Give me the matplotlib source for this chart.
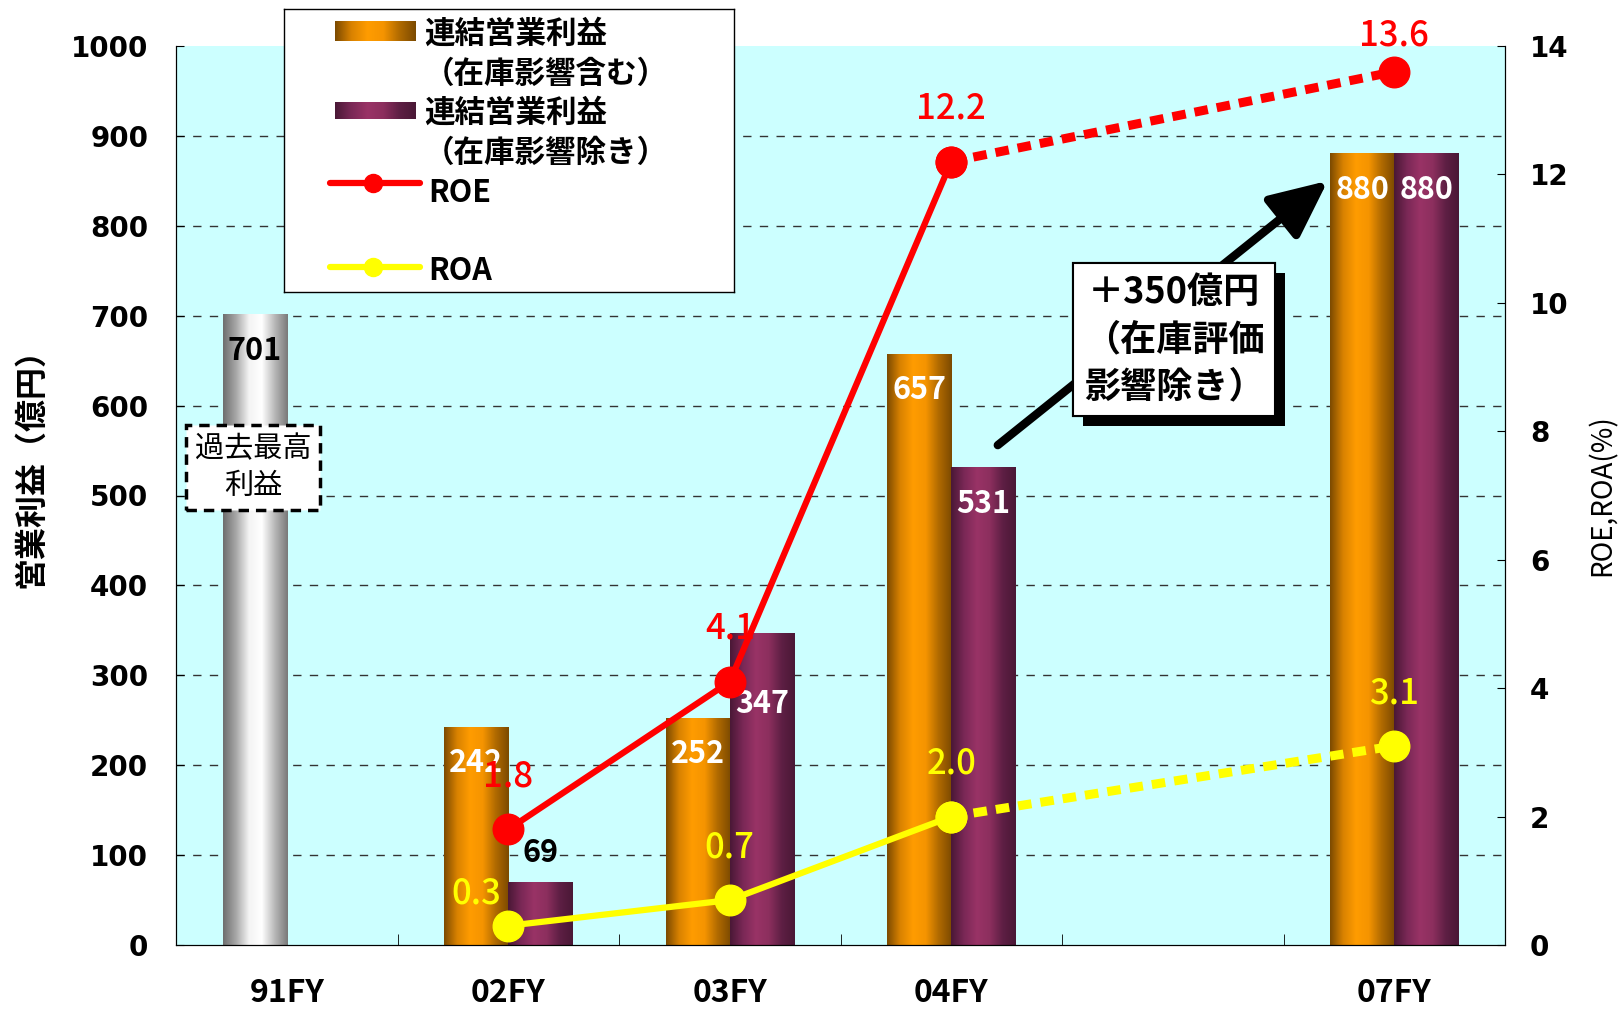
import numpy as np
import matplotlib.pyplot as plt
from matplotlib.colors import LinearSegmentedColormap
import matplotlib.patheffects as pe

plt.rcParams['font.family'] = ['Noto Sans CJK JP', 'DejaVu Sans']

# data
categories = ['91FY', '02FY', '03FY', '04FY', '', '07FY']
profit_incl = [701, 242, 252, 657, np.nan, 880]   # 連結営業利益（在庫影響含む）, 91FY = 過去最高利益
profit_excl = [np.nan, 69, 347, 531, np.nan, 880]  # 連結営業利益（在庫影響除き）
roe = [np.nan, 1.8, 4.1, 12.2, np.nan, 13.6]
roa = [np.nan, 0.3, 0.7, 2.0, np.nan, 3.1]
left_ticks = np.arange(0, 1001, 100)
right_ticks = np.arange(0, 15, 2)

W, H = 1622, 1009
fig = plt.figure(figsize=(W / 100, H / 100), dpi=100)
ax = fig.add_axes([176 / W, 1 - 945 / H, (1505 - 176) / W, (945 - 46) / H])
ax.set_facecolor('#ccffff')

x = np.arange(len(categories))
bw = 0.29

orange = LinearSegmentedColormap.from_list('orange', ['#7c4a00', '#d98200', '#ff9c00', '#f59400', '#b06a00', '#7c4a00'])
purple = LinearSegmentedColormap.from_list('purple', ['#4a1836', '#7a2856', '#993366', '#8c2f5e', '#5e1f44', '#4a1836'])
silver = LinearSegmentedColormap.from_list('silver', ['#6e6e6e', '#a8a8a8', '#f4f4f4', '#ffffff', '#b8b8b8', '#7a7a7a'])

for v in left_ticks[1:-1]:
    ax.axhline(v, color='#333333', lw=1, ls=(0, (6, 6)), zorder=1)

bars1 = ax.bar(x - bw / 2, profit_incl, bw, color='#ff9900', zorder=2)
bars2 = ax.bar(x + bw / 2, profit_excl, bw, color='#993366', zorder=2)


def shade(patch, cmap):
    h = patch.get_height()
    if np.isnan(h):
        return
    x0 = patch.get_x()
    g = np.linspace(0, 1, 128).reshape(1, -1)
    ax.imshow(g, cmap=cmap, aspect='auto', extent=[x0, x0 + patch.get_width(), 0, h],
              zorder=2.1, interpolation='bilinear')


for i, p in enumerate(bars1):
    shade(p, silver if i == 0 else orange)
for p in bars2:
    shade(p, purple)

# bar value labels
lab = dict(ha='center', va='center', fontsize=22, weight='bold', zorder=5)
for i, p in enumerate(bars1):
    v = p.get_height()
    if np.isnan(v):
        continue
    ax.text(p.get_x() + bw / 2, v - 40, f'{v:.0f}', color='black' if i == 0 else 'white', **lab)
for i, p in enumerate(bars2):
    v = p.get_height()
    if np.isnan(v):
        continue
    if v < 100:
        ax.text(p.get_x() + bw / 2, v + 33, f'{v:.0f}', color='black', **lab)
    elif i == 2:
        ax.text(p.get_x() + bw / 2, v - 79, f'{v:.0f}', color='white', **lab)
    else:
        ax.text(p.get_x() + bw / 2, v - 40, f'{v:.0f}', color='white', **lab)

ax.set_xlim(-0.5, 5.5)
ax.set_ylim(0, 1000)
ax.set_yticks(left_ticks)
ax.set_yticklabels([str(t) for t in left_ticks], family='DejaVu Sans', weight='bold', fontsize=20)
ax.set_xticks(x)
ax.set_xticklabels(categories, fontsize=23, weight='bold')
ax.set_xticks(np.arange(0.5, 5, 1), minor=True)
ax.tick_params(axis='x', which='major', length=0, pad=23)
ax.tick_params(axis='x', which='minor', direction='in', length=8)
ax.tick_params(axis='y', direction='in', length=6, pad=20)
ax.spines['top'].set_visible(False)

# box over 91FY
ax.text(-0.152, 531, '過去最高\n利益', ha='center', va='center', fontsize=21, linespacing=1.3, zorder=6,
        bbox=dict(boxstyle='square,pad=0.3', fc='white', ec='black', lw=2.5, ls=(0, (3, 2))))

# arrow + callout
ax.annotate('', xy=(4.70, 850), xytext=(3.21, 556), zorder=4,
            arrowprops=dict(arrowstyle='-|>,head_length=1.4,head_width=0.65', color='black', lw=6,
                            mutation_scale=25, shrinkA=0, shrinkB=0))
t = ax.text(4.006, 673, '＋350億円\n（在庫評価\n影響除き）', ha='center', va='center', fontsize=26,
            weight='bold', linespacing=1.35, zorder=6,
            bbox=dict(boxstyle='square,pad=0.3', fc='white', ec='black', lw=1.5))
t.get_bbox_patch().set_path_effects([pe.withSimplePatchShadow(offset=(7, -7), shadow_rgbFace='black', alpha=1.0),
                                     pe.Normal()])

# ROE / ROA on right axis
ax2 = ax.twinx()
roe_a = np.array(roe)
roa_a = np.array(roa)
ax2.plot(x[1:4], roe_a[1:4], color='#ff0000', lw=4.5, marker='o', ms=22, zorder=3)
ax2.plot(x[[3, 5]], roe_a[[3, 5]], color='#ff0000', lw=6.5, ls=(0, (1.5, 1.0)), dash_capstyle='butt',
         marker='o', ms=22, zorder=3)
ax2.plot(x[1:4], roa_a[1:4], color='#ffff00', lw=4.5, marker='o', ms=22, zorder=3)
ax2.plot(x[[3, 5]], roa_a[[3, 5]], color='#ffff00', lw=6.5, ls=(0, (1.5, 1.0)), dash_capstyle='butt',
         marker='o', ms=22, zorder=3)

for i in x:
    if not np.isnan(roe_a[i]):
        dy = 26 if i == 5 else 38
        ax2.annotate(f'{roe_a[i]:.1f}', (i, roe_a[i]), xytext=(0, dy), textcoords='offset points',
                     ha='center', va='center', color='#ff0000', fontsize=25, weight='medium')
    if not np.isnan(roa_a[i]):
        off = (-23, 23) if i == 1 else (0, 38)
        ax2.annotate(f'{roa_a[i]:.1f}', (i, roa_a[i]), xytext=off, textcoords='offset points',
                     ha='center', va='center', color='#ffff00', fontsize=25, weight='medium')

ax2.set_ylim(0, 14)
ax2.set_yticks(right_ticks)
ax2.set_yticklabels([str(t) for t in right_ticks], family='DejaVu Sans', weight='bold', fontsize=20)
ax2.tick_params(axis='y', direction='in', length=6, pad=18)
ax2.spines['top'].set_visible(False)

fig.text(31 / W, 1 - 460 / H, '営業利益（億円）', rotation=90, ha='center', va='center', fontsize=23, weight='bold')
fig.text(1603 / W, 1 - 495 / H, 'ROE,ROA(%)', rotation=90, ha='center', va='center', fontsize=20)

# legend box
lax = fig.add_axes([284 / W, 1 - 292 / H, 450 / W, 283 / H])
lax.set_facecolor('white')
g = np.linspace(0, 1, 128).reshape(1, -1)
lax.imshow(g, cmap=orange, aspect='auto', extent=[51, 132, 32, 12], interpolation='bilinear')
lax.imshow(g, cmap=purple, aspect='auto', extent=[51, 132, 110, 93], interpolation='bilinear')
lax.plot([46, 136], [174, 174], color='#ff0000', lw=4.5, solid_capstyle='round')
lax.plot([89], [174], 'o', color='#ff0000', ms=13)
lax.plot([46, 136], [258, 258], color='#ffff00', lw=4.5, solid_capstyle='round')
lax.plot([89], [258], 'o', color='#ffff00', ms=13)
lt = dict(ha='left', va='center', fontsize=22, weight='bold', linespacing=1.35)
lax.text(140, 45, '連結営業利益\n（在庫影響含む）', **lt)
lax.text(140, 124, '連結営業利益\n（在庫影響除き）', **lt)
lax.text(144, 184, 'ROE', **lt)
lax.text(144, 262, 'ROA', **lt)
lax.set_xlim(0, 450)
lax.set_ylim(283, 0)
lax.set_xticks([])
lax.set_yticks([])
for s in lax.spines.values():
    s.set_linewidth(1)

fig.savefig('out.png', dpi=100)
